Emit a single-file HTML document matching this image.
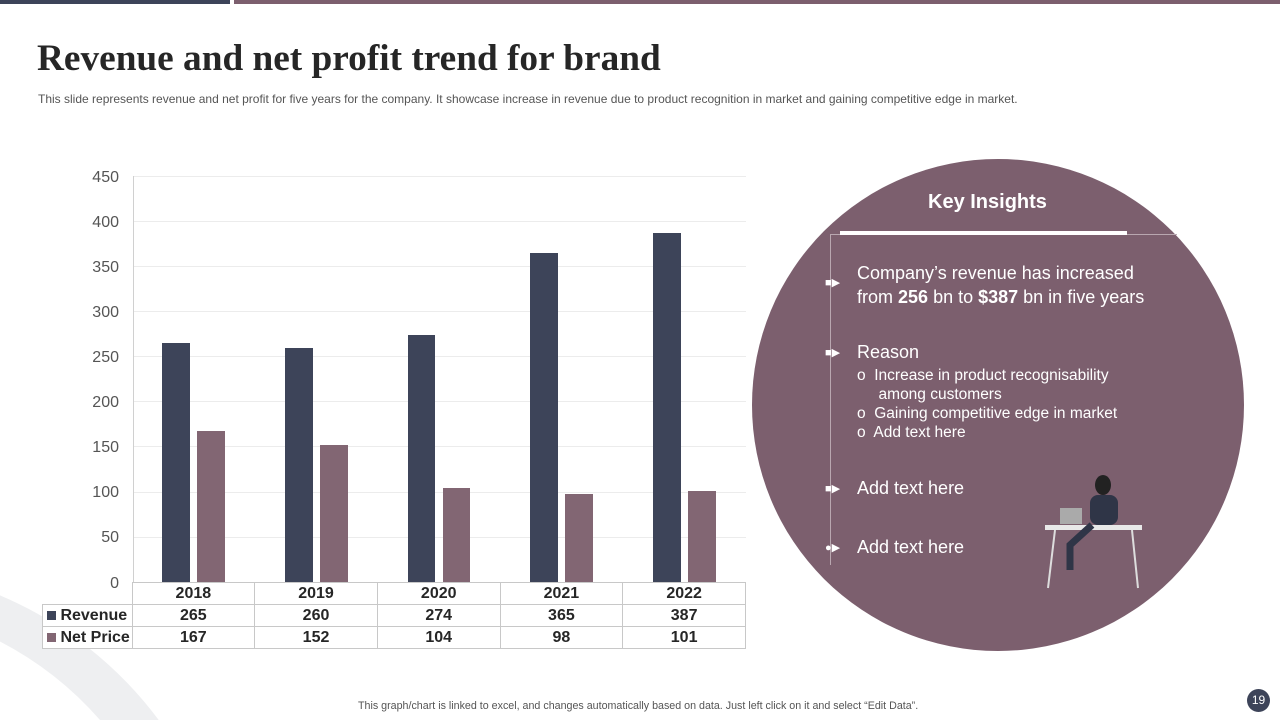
<!DOCTYPE html>
<html style="width:1280px;height:720px;overflow:hidden"><head><meta charset="utf-8"><style>
body{margin:0;width:1280px;height:720px;position:relative;overflow:hidden;background:#fff;font-family:"Liberation Sans",sans-serif}
.a{position:absolute}
.t td{border:1px solid #c8c8c8;text-align:center;font-weight:bold;font-size:16px;color:#262626;padding:0;height:21px}
.ins{color:#fff;font-size:18px}
</style></head><body>
<svg class="a" style="left:0;top:0" width="200" height="720">
<path d="M0,595.4 A385,385 0 0 1 158.7,720 L100,720 A343,343 0 0 0 0,641.5 Z" fill="#eeeff1"/>
</svg>
<div class="a" style="left:0;top:0;width:230px;height:4px;background:#3d4459"></div>
<div class="a" style="left:234px;top:0;width:1046px;height:4px;background:#7c5f6e"></div>
<div class="a" style="left:37px;top:37px;font-family:'Liberation Serif',serif;font-weight:bold;font-size:37.3px;line-height:43px;color:#262626">Revenue and net profit trend for brand</div>
<div class="a" style="left:38px;top:92px;font-size:12px;line-height:14px;color:#555;white-space:nowrap">This slide represents revenue and net profit for five years for the company. It showcase increase in revenue due to product recognition in market and gaining competitive edge in market.</div>
<svg class="a" style="left:0;top:0" width="760" height="600">
<g stroke="#ececec" stroke-width="1">
<line x1="133" x2="746" y1="176.5" y2="176.5"/><line x1="133" x2="746" y1="221.5" y2="221.5"/><line x1="133" x2="746" y1="266.5" y2="266.5"/><line x1="133" x2="746" y1="311.5" y2="311.5"/><line x1="133" x2="746" y1="356.5" y2="356.5"/><line x1="133" x2="746" y1="401.5" y2="401.5"/><line x1="133" x2="746" y1="446.5" y2="446.5"/><line x1="133" x2="746" y1="492.5" y2="492.5"/><line x1="133" x2="746" y1="537.5" y2="537.5"/></g>
<line x1="133.5" x2="133.5" y1="176" y2="582" stroke="#d0d0d0"/>
<g font-size="16" fill="#555" text-anchor="end" font-family="Liberation Sans">
<text x="119" y="182">450</text><text x="119" y="227">400</text><text x="119" y="272">350</text><text x="119" y="317">300</text><text x="119" y="362">250</text><text x="119" y="407">200</text><text x="119" y="452">150</text><text x="119" y="497">100</text><text x="119" y="542">50</text><text x="119" y="588">0</text></g>
<g fill="#3d4459">
<rect x="162" y="343" width="28" height="239"/><rect x="285" y="348" width="28" height="234"/><rect x="408" y="335" width="27" height="247"/><rect x="530" y="253" width="28" height="329"/><rect x="653" y="233" width="28" height="349"/></g>
<g fill="#826673">
<rect x="197" y="431" width="28" height="151"/><rect x="320" y="445" width="28" height="137"/><rect x="443" y="488" width="27" height="94"/><rect x="565" y="494" width="28" height="88"/><rect x="688" y="491" width="28" height="91"/></g>
</svg>
<table class="t a" style="left:42px;top:582px;border-collapse:collapse;width:704px">
<tr><td style="border:none;border-right:1px solid #c8c8c8;width:89px"></td><td>2018</td><td>2019</td><td>2020</td><td>2021</td><td>2022</td></tr>
<tr><td style="text-align:left;padding-left:4px;background:#fff"><span style="display:inline-block;width:9px;height:9px;background:#3d4459"></span> Revenue</td><td>265</td><td>260</td><td>274</td><td>365</td><td>387</td></tr>
<tr><td style="text-align:left;padding-left:4px;background:#fff"><span style="display:inline-block;width:9px;height:9px;background:#826673"></span> Net Price</td><td>167</td><td>152</td><td>104</td><td>98</td><td>101</td></tr>
</table>
<div class="a" style="left:752px;top:159px;width:492px;height:492px;border-radius:50%;background:#7c5f6e"></div>
<div class="a" style="left:830px;top:234px;width:346px;height:330px;border-left:1px solid #b9a7b0;border-top:1px solid #b9a7b0"></div>
<div class="a" style="left:840px;top:231px;width:287px;height:4px;background:#fff"></div>
<div class="a ins" style="left:928px;top:191px;font-weight:bold;font-size:20px">Key Insights</div>
<div class="a ins" style="left:825px;top:276px;font-size:11px">■▶</div>
<div class="a ins" style="left:857px;top:261px;line-height:24px">Company’s revenue has increased<br>from <b>256</b> bn to <b>$387</b> bn in five years</div>
<div class="a ins" style="left:825px;top:346px;font-size:11px">■▶</div>
<div class="a ins" style="left:857px;top:342px">Reason</div>
<div class="a ins" style="left:857px;top:366px;font-size:15.5px;line-height:19px">o&nbsp; Increase in product recognisability<br>&nbsp;&nbsp;&nbsp;&nbsp; among customers<br>o&nbsp; Gaining competitive edge in market<br>o&nbsp; Add text here</div>
<div class="a ins" style="left:825px;top:482px;font-size:11px">■▶</div>
<div class="a ins" style="left:857px;top:478px">Add text here</div>
<div class="a ins" style="left:825px;top:541px;font-size:11px">●▶</div>
<div class="a ins" style="left:857px;top:537px">Add text here</div>
<svg class="a" style="left:1040px;top:470px" width="110" height="120">
<rect x="5" y="55" width="97" height="5" fill="#e8e8e8"/><line x1="15" y1="60" x2="8" y2="118" stroke="#ddd" stroke-width="2"/><line x1="92" y1="60" x2="98" y2="118" stroke="#ddd" stroke-width="2"/>
<rect x="20" y="38" width="22" height="16" fill="#aaa"/><ellipse cx="63" cy="15" rx="8" ry="10" fill="#222"/><rect x="50" y="25" width="28" height="30" rx="8" fill="#2f3547"/><path d="M52 55 L30 75 L30 100" stroke="#2f3547" stroke-width="7" fill="none"/>
</svg>
<div class="a" style="left:358px;top:700px;font-size:10.7px;line-height:13px;color:#555;white-space:nowrap">This graph/chart is linked to excel, and changes automatically based on data. Just left click on it and select “Edit Data”.</div>
<div class="a" style="left:1247px;top:689px;width:23px;height:23px;border-radius:50%;background:#3d4459;color:#fff;font-size:12px;text-align:center;line-height:23px">19</div>
</body></html>
